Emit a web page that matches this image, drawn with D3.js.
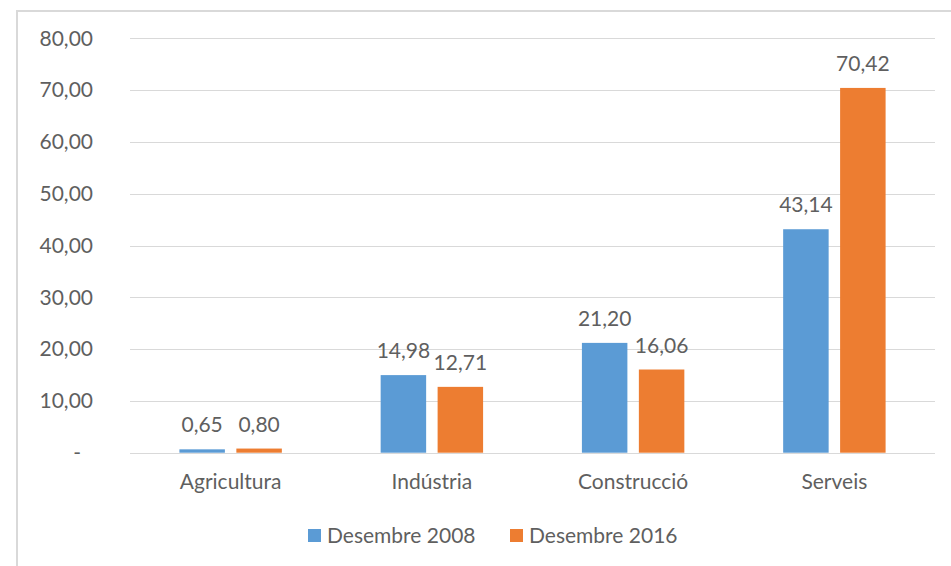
<!DOCTYPE html>
<html>
<head>
<meta charset="utf-8">
<script src="https://cdn.jsdelivr.net/npm/d3@7.9.0/dist/d3.min.js"></script>
<style>
  body { margin: 0; background: #fff; }
  svg text { font-family: Lato, "Open Sans", sans-serif; fill: #5f5f5f; }
</style>
</head>
<body>
<svg id="chart" width="951" height="566"></svg>
<script>
const categories = ['Agricultura', 'Indústria', 'Construcció', 'Serveis'];
const seriesNames = ['Desembre 2008', 'Desembre 2016'];
const values2008 = [0.65, 14.98, 21.20, 43.14];
const values2016 = [0.80, 12.71, 16.06, 70.42];
const yTicks = [0, 10, 20, 30, 40, 50, 60, 70, 80];
const colors = ['#5b9bd5', '#ed7d31'];

const svg = d3.select('#chart');

// chart area border (only top and left visible in the picture)
svg.append('rect')
    .attr('x', 17).attr('y', 11)
    .attr('width', 960).attr('height', 600)
    .attr('fill', 'none')
    .attr('stroke', '#d9d9d9')
    .attr('stroke-width', 2);

const plotLeft = 130, plotRight = 935, plotTop = 38.3, plotBottom = 452.7;

const x = d3.scaleBand().domain(categories).range([plotLeft, plotRight]);
const y = d3.scaleLinear().domain([0, 80]).range([plotBottom, plotTop]);

const fmt = (v) => v.toFixed(2).replace('.', ',');
const fs = 21;

// gridlines
svg.append('g')
    .selectAll('line')
    .data(yTicks)
    .join('line')
    .attr('x1', plotLeft).attr('x2', plotRight)
    .attr('y1', (d) => Math.round(y(d)) + 0.5)
    .attr('y2', (d) => Math.round(y(d)) + 0.5)
    .attr('stroke', '#d9d9d9')
    .attr('stroke-width', 1);

// y tick labels
svg.append('g')
    .selectAll('text')
    .data(yTicks)
    .join('text')
    .attr('x', (d) => d === 0 ? 81 : 93)
    .attr('y', (d) => y(d))
    .attr('dy', '0.35em')
    .attr('text-anchor', 'end')
    .attr('font-size', fs)
    .text((d) => d === 0 ? '-' : fmt(d));

// bars
const barW = x.bandwidth() * 0.226;
const innerGap = x.bandwidth() * 0.057;
const series = [values2008, values2016];

series.forEach((vals, si) => {
    const g = svg.append('g');
    const offset = (si === 0) ? -(innerGap / 2 + barW) : innerGap / 2;
    g.selectAll('rect')
        .data(vals)
        .join('rect')
        .attr('x', (d, i) => x(categories[i]) + x.bandwidth() / 2 + offset)
        .attr('y', (d) => y(d))
        .attr('width', barW)
        .attr('height', (d) => y(0) - y(d))
        .attr('fill', colors[si]);

    g.selectAll('text')
        .data(vals)
        .join('text')
        .attr('x', (d, i) => x(categories[i]) + x.bandwidth() / 2 + offset + barW / 2)
        .attr('y', (d) => y(d) - 17)
        .attr('text-anchor', 'middle')
        .attr('font-size', fs)
        .text((d) => fmt(d));
});

// category labels
svg.append('g')
    .selectAll('text')
    .data(categories)
    .join('text')
    .attr('x', (d) => x(d) + x.bandwidth() / 2)
    .attr('y', 489)
    .attr('text-anchor', 'middle')
    .attr('font-size', fs)
    .text((d) => d);

// legend
const legendX = [308, 510];
const legend = svg.append('g');
seriesNames.forEach((name, i) => {
    legend.append('rect')
        .attr('x', legendX[i]).attr('y', 529)
        .attr('width', 13).attr('height', 13)
        .attr('fill', colors[i]);
    legend.append('text')
        .attr('x', legendX[i] + 19)
        .attr('y', 535.5)
        .attr('dy', '0.35em')
        .attr('font-size', fs)
        .text(name);
});
</script>
</body>
</html>
